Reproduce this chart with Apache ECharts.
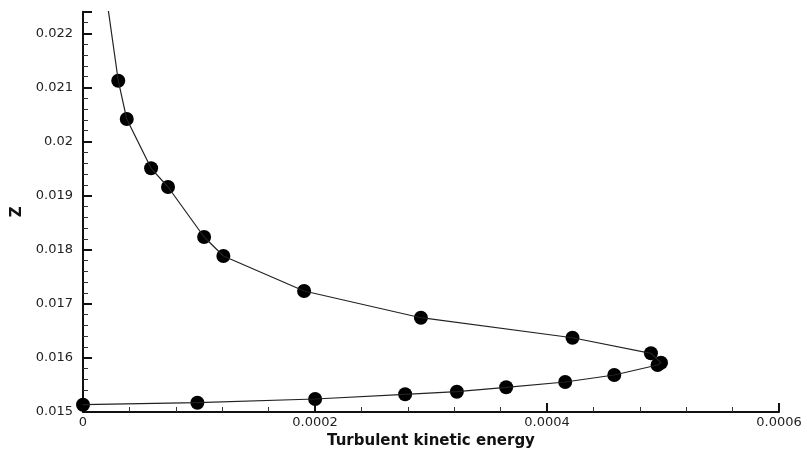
<!DOCTYPE html>
<html>
<head>
<meta charset="utf-8">
<script src="https://cdn.jsdelivr.net/npm/echarts@6/dist/echarts.min.js"></script>
<style>
html,body{margin:0;padding:0;background:#fff;}
#chart{width:807px;height:452px;}
</style>
</head>
<body>
<div id="chart"></div>
<script>
// Marker points (turbulent kinetic energy, Z)
const tke = [3.04e-5, 3.77e-5, 5.87e-5, 7.33e-5, 1.044e-4, 1.21e-4, 1.906e-4, 2.913e-4, 4.22e-4, 4.896e-4, 4.983e-4, 4.953e-4, 4.58e-4, 4.157e-4, 3.648e-4, 3.223e-4, 2.777e-4, 2.001e-4, 9.86e-5, 0];
const zVal = [0.021124, 0.020416, 0.019505, 0.019159, 0.018235, 0.017884, 0.017237, 0.016743, 0.016373, 0.016085, 0.015911, 0.015869, 0.015684, 0.015555, 0.015457, 0.015375, 0.015327, 0.01524, 0.015172, 0.015135];
// Curve continues above the top marker, beyond the plot edge
const curveTopX = [2.18e-5];
const curveTopZ = [0.02243];
const xTicks = [0, 0.0002, 0.0004, 0.0006];
const yTicks = [0.015, 0.016, 0.017, 0.018, 0.019, 0.02, 0.021, 0.022];

const markerData = tke.map((x, i) => [x, zVal[i]]);
const lineData = curveTopX.map((x, i) => [x, curveTopZ[i]]).concat(markerData);

const chart = echarts.init(document.getElementById('chart'));
const fontFam = '"DejaVu Sans", Verdana, sans-serif';
chart.setOption({
  animation: false,
  backgroundColor: '#fff',
  grid: {left: 83, right: 28, top: 11.7, bottom: 40, containLabel: false, outerBoundsMode: 'none'},
  xAxis: {
    type: 'value', min: xTicks[0], max: xTicks[xTicks.length - 1], interval: 0.0002,
    name: 'Turbulent kinetic energy', nameLocation: 'middle', nameGap: 19,
    nameTextStyle: {fontFamily: fontFam, fontWeight: 'bold', fontSize: 15, color: '#111'},
    axisLine: {show: true, lineStyle: {color: '#111', width: 2}},
    axisTick: {show: true, inside: true, length: 9, lineStyle: {color: '#111', width: 2}},
    minorTick: {show: true, splitNumber: 5, length: 5, lineStyle: {color: '#333', width: 1}},
    splitLine: {show: false},
    axisLabel: {fontFamily: fontFam, fontSize: 13, color: '#222', margin: 4,
      formatter: v => String(parseFloat(v.toFixed(5)))}
  },
  yAxis: {
    type: 'value', min: yTicks[0], max: 0.0224, interval: 0.001,
    name: 'Z', nameLocation: 'middle', nameGap: 58, nameRotate: 90,
    nameTextStyle: {fontFamily: fontFam, fontWeight: 'bold', fontSize: 15, color: '#111'},
    axisLine: {show: true, lineStyle: {color: '#111', width: 2}},
    axisTick: {show: true, inside: true, length: 9, lineStyle: {color: '#111', width: 2}},
    minorTick: {show: true, splitNumber: 5, length: 5, lineStyle: {color: '#333', width: 1}},
    splitLine: {show: false},
    axisLabel: {fontFamily: fontFam, fontSize: 13, color: '#222', margin: 10,
      showMaxLabel: false,
      formatter: v => String(parseFloat(v.toFixed(4)))}
  },
  series: [
    {type: 'line', data: lineData, symbol: 'none', clip: true,
     lineStyle: {color: '#222', width: 1.2}},
    {type: 'scatter', data: markerData, symbol: 'circle', symbolSize: 14,
     itemStyle: {color: '#000', opacity: 1}, clip: true}
  ]
});
</script>
</body>
</html>
